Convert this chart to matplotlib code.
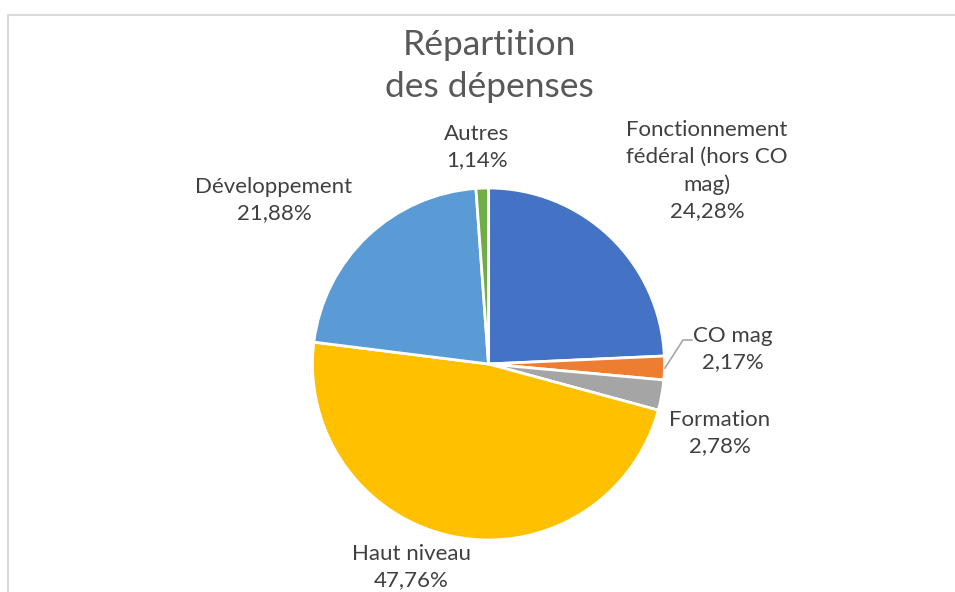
import matplotlib.pyplot as plt

categories = ["Fonctionnement\nfédéral (hors CO\nmag)", "CO mag", "Formation",
              "Haut niveau", "Développement", "Autres"]
values = [24.28, 2.17, 2.78, 47.76, 21.88, 1.14]
colors = ["#4472C4", "#ED7D31", "#A5A5A5", "#FFC000", "#5B9BD5", "#70AD47"]

# label centres in pixels (x, y from top)
label_pos = [(707, 171), (733, 349), (720, 433), (411, 567), (274, 200), (477, 147)]

W, H = 955, 592
fig = plt.figure(figsize=(W / 100, H / 100), dpi=100)
fig.patch.set_facecolor("white")
ax = fig.add_axes([0, 0, 1, 1])
ax.set_xlim(0, W)
ax.set_ylim(0, H)
ax.set_aspect("equal")
ax.axis("off")

plt.rcParams["font.family"] = ["Lato", "DejaVu Sans"]

ax.pie(values, colors=colors, startangle=90, counterclock=False,
       center=(488.5, H - 364), radius=176, frame=True,
       wedgeprops=dict(edgecolor="white", linewidth=2))
ax.set_xlim(0, W)
ax.set_ylim(0, H)
ax.axis("off")

# chart frame
ax.plot([8, 8, W + 5], [-5, H - 14.5, H - 14.5], color="#D9D9D9", lw=1.5)

ax.text(489, H - 66, "Répartition\ndes dépenses", ha="center", va="center",
        fontsize=25.5, color="#595959", linespacing=1.4)

for cat, v, (x, y) in zip(categories, values, label_pos):
    txt = cat + "\n" + f"{v:.2f}".replace(".", ",") + "%"
    ax.text(x, H - y, txt, ha="center", va="center", fontsize=16,
            color="#404040", linespacing=1.42)

# leader line for CO mag
ax.plot([692, 683, 665], [H - 340, H - 340, H - 368], color="#A6A6A6", lw=1.2)

fig.savefig("out.png", dpi=100)
